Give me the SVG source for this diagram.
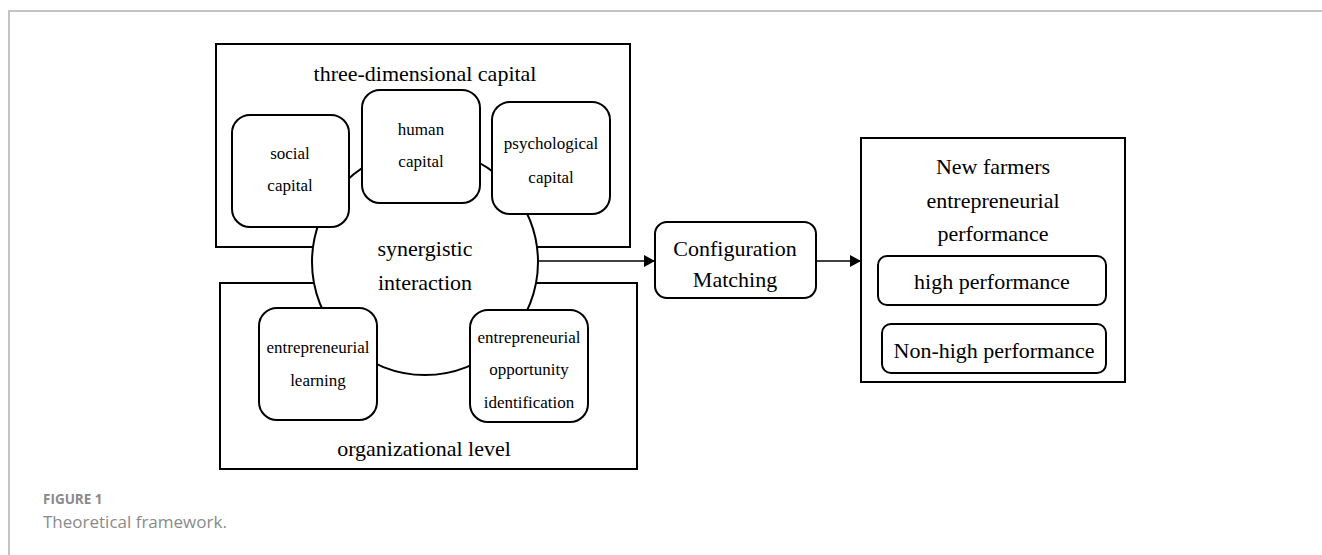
<svg xmlns="http://www.w3.org/2000/svg" width="1322" height="555" viewBox="0 0 1322 555">
<style>
.frame{fill:none;stroke:#c4c4c4;stroke-width:2}
.box{fill:#fff;stroke:#000;stroke-width:2}
.t{fill:#000;text-anchor:middle;dominant-baseline:central}
.s17{font-size:17px}
.s22{font-size:22px}
.conn{stroke:#000;stroke-width:1.3;fill:none}
.cap{fill:#8a8a8a}
</style>
<defs>
<marker id="arr" markerWidth="11" markerHeight="12" refX="11" refY="6" orient="auto" markerUnits="userSpaceOnUse">
<path d="M0,0 L11,6 L0,12 Z" fill="#000"/>
</marker>
</defs>
<path class="frame" d="M9,555 V11 H1322"/>
<g font-family="Liberation Serif, Times New Roman, DejaVu Serif, serif">
<g id="group-capital">
<rect class="box" x="216" y="44" width="414" height="203"/>
<text class="t s22" x="425" y="73">three-dimensional capital</text>
</g>
<g id="group-organizational">
<rect class="box" x="220" y="283" width="417" height="186"/>
<text class="t s22" x="424" y="448">organizational level</text>
</g>
<g id="synergy">
<circle class="box" cx="425" cy="262" r="113"/>
<text class="t s22" x="425" y="248">synergistic</text>
<text class="t s22" x="425" y="282">interaction</text>
</g>
<g id="social-capital">
<rect class="box" x="232" y="115" width="117" height="112" rx="18"/>
<text class="t s17" x="290" y="153">social</text>
<text class="t s17" x="290" y="185">capital</text>
</g>
<g id="human-capital">
<rect class="box" x="362" y="90" width="118" height="113" rx="18"/>
<text class="t s17" x="421" y="129">human</text>
<text class="t s17" x="421" y="161">capital</text>
</g>
<g id="psychological-capital">
<rect class="box" x="492" y="102" width="118" height="112" rx="18"/>
<text class="t s17" x="551" y="143">psychological</text>
<text class="t s17" x="551" y="177">capital</text>
</g>
<g id="entrepreneurial-learning">
<rect class="box" x="259" y="308" width="118" height="112" rx="18"/>
<text class="t s17" x="318" y="347">entrepreneurial</text>
<text class="t s17" x="318" y="380">learning</text>
</g>
<g id="opportunity-identification">
<rect class="box" x="470" y="310" width="118" height="112" rx="18"/>
<text class="t s17" x="529" y="337">entrepreneurial</text>
<text class="t s17" x="529" y="369">opportunity</text>
<text class="t s17" x="529" y="402">identification</text>
</g>
<g id="configuration-matching">
<rect class="box" x="655" y="222" width="161" height="76" rx="12"/>
<text class="t s22" x="735" y="248">Configuration</text>
<text class="t s22" x="735" y="279">Matching</text>
</g>
<g id="performance">
<rect class="box" x="861" y="138" width="264" height="244"/>
<text class="t s22" x="993" y="166">New farmers</text>
<text class="t s22" x="993" y="200">entrepreneurial</text>
<text class="t s22" x="993" y="233">performance</text>
</g>
<g id="high-performance">
<rect class="box" x="878" y="256" width="228" height="49" rx="9"/>
<text class="t s22" x="992" y="281">high performance</text>
</g>
<g id="non-high-performance">
<rect class="box" x="882" y="324" width="224" height="49" rx="9"/>
<text class="t s22" x="994" y="350">Non-high performance</text>
</g>
</g>
<g id="connectors">
<line class="conn" x1="538" y1="261" x2="655" y2="261" marker-end="url(#arr)"/>
<line class="conn" x1="816" y1="261" x2="861" y2="261" marker-end="url(#arr)"/>
</g>
<g id="caption" font-family="Open Sans, Noto Sans, sans-serif">
<text class="cap" x="43" y="504" font-size="13.5" font-weight="bold">FIGURE 1</text>
<text class="cap" x="43" y="528" font-size="17">Theoretical framework.</text>
</g>
</svg>
